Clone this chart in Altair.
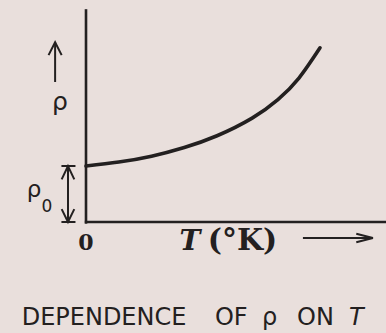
import altair as alt
import pandas as pd

# Resistivity versus temperature: T in arbitrary units, rho in units of rho0
temp = [0.0, 1.4, 2.8, 4.2, 5.6, 7.1, 8.2, 9.1, 10.0]
rho = [1.0, 1.07, 1.175, 1.33, 1.54, 1.855, 2.185, 2.57, 3.11]

# Residual resistivity (height of the bracket at T = 0)
rho0 = 1.0

# Caption words and their left edges (T units)
caption_words = ["DEPENDENCE", "OF", "ρ", "ON"]
caption_left = [-2.75, 5.51, 7.52, 9.02]

T_DOMAIN = [-3.675, 12.82]
R_DOMAIN = [-1.982, 3.964]

INK = "#232020"
PAPER = "#e9dfdc"

xs = alt.Scale(domain=T_DOMAIN, nice=False, zero=False)
ys = alt.Scale(domain=R_DOMAIN, nice=False, zero=False)


def X(field="T"):
    return alt.X(f"{field}:Q", scale=xs, axis=None)


def Y(field="rho"):
    return alt.Y(f"{field}:Q", scale=ys, axis=None)


curve_df = pd.DataFrame({"T": temp, "rho": rho})

# Coordinate axes
axes_df = pd.DataFrame({
    "T": [0.0, -0.05],
    "T2": [0.0, T_DOMAIN[1]],
    "rho": [-0.03, 0.0],
    "rho2": [3.8, 0.0],
})

# Straight strokes of the annotation arrows and the rho0 bracket
strokes_df = pd.DataFrame({
    "T": [-1.05, -1.05, -0.77, -1.32, 9.27],
    "T2": [-0.45, -0.45, -0.77, -1.32, 12.26],
    "rho": [rho0, 0.0, 0.0, 2.5, -0.286],
    "rho2": [rho0, 0.0, rho0, 3.21, -0.286],
})

# Open arrowheads, one polyline each (wing, tip, wing)
heads = {
    "up": [(-1.60, 2.98), (-1.32, 3.21), (-1.04, 2.98)],
    "bracket_top": [(-1.04, 0.76), (-0.77, rho0), (-0.50, 0.76)],
    "bracket_bottom": [(-1.04, 0.23), (-0.77, 0.0), (-0.50, 0.23)],
    "right": [(11.55, -0.21), (12.26, -0.286), (11.55, -0.36)],
}
heads_df = pd.DataFrame([
    {"id": k, "i": i, "T": p[0], "rho": p[1]}
    for k, pts in heads.items() for i, p in enumerate(pts)
])

axes = alt.Chart(axes_df).mark_rule(color=INK, strokeWidth=2.6).encode(
    x=X(), x2="T2:Q", y=Y(), y2="rho2:Q"
)

curve = alt.Chart(curve_df).mark_line(
    color=INK, strokeWidth=3.6, interpolate="natural", strokeCap="round"
).encode(x=X(), y=Y())

strokes = alt.Chart(strokes_df).mark_rule(color=INK, strokeWidth=2).encode(
    x=X(), x2="T2:Q", y=Y(), y2="rho2:Q"
)

arrowheads = alt.Chart(heads_df).mark_line(
    color=INK, strokeWidth=2, strokeJoin="miter"
).encode(x=X(), y=Y(), detail="id:N", order="i:Q")


def label(df, **style):
    base = dict(color=INK, align="left", baseline="alphabetic")
    base.update(style)
    return alt.Chart(pd.DataFrame(df)).mark_text(**base).encode(
        x=X(), y=Y(), text="txt:N"
    )


rho_label = label({"txt": ["ρ"], "T": [-1.45], "rho": [2.0]},
                  font="DejaVu Sans", fontSize=25)
rho0_label = label({"txt": ["ρ"], "T": [-2.53], "rho": [0.44]},
                   font="DejaVu Sans", fontSize=23)
rho0_sub = label({"txt": ["0"], "T": [-1.9], "rho": [0.18]},
                 font="DejaVu Sans", fontSize=17)
origin_label = label({"txt": ["0"], "T": [0.0], "rho": [-0.5]},
                     font="DejaVu Serif", fontSize=22, fontWeight="bold",
                     align="center")
t_label = label({"txt": ["T"], "T": [4.0], "rho": [-0.5]},
                font="DejaVu Serif", fontSize=28, fontWeight="bold",
                fontStyle="italic")
unit_label = label({"txt": ["(°K)"], "T": [5.2], "rho": [-0.5]},
                   font="DejaVu Serif", fontSize=30, fontWeight="bold")
caption = label({"txt": caption_words, "T": caption_left,
                 "rho": [-1.84] * len(caption_words)},
                font="DejaVu Sans", fontSize=24)
caption_t = label({"txt": ["T"], "T": [11.24], "rho": [-1.84]},
                  font="DejaVu Sans", fontSize=24, fontStyle="italic")

chart = alt.layer(
    axes, curve, strokes, arrowheads,
    rho_label, rho0_label, rho0_sub, origin_label, t_label, unit_label,
    caption, caption_t,
).properties(
    width=386, height=333, padding=0, background=PAPER,
    autosize=alt.AutoSizeParams(type="none"),
).configure_view(stroke=None)

chart.save("out.html", embed_options={"renderer": "svg", "actions": False})
